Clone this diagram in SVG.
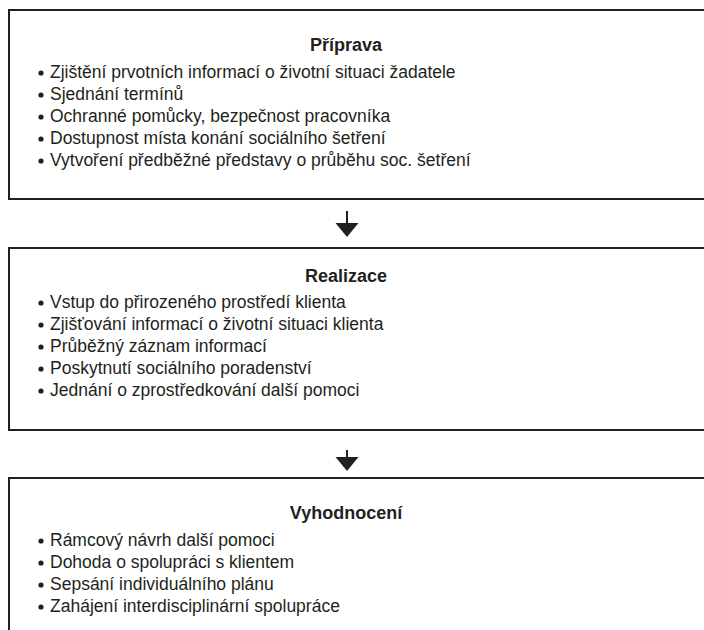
<svg xmlns="http://www.w3.org/2000/svg" width="704" height="630" viewBox="0 0 704 630">
<style>
.box{fill:#fff;stroke:#231f20;stroke-width:2}
.t{font-family:"Liberation Sans",Arial,sans-serif;font-size:17.5px;fill:#231f20}
.h{font-family:"Liberation Sans",Arial,sans-serif;font-size:18px;font-weight:bold;fill:#231f20;text-anchor:middle}
.b{fill:#231f20}
.ar{stroke:#231f20;stroke-width:2;fill:none}
</style>
<rect width="704" height="630" fill="#fff"/>
<g id="priprava">
<rect class="box" x="9" y="10" width="710" height="189"/>
<text class="h" x="346" y="51">Příprava</text>
<circle class="b" cx="41" cy="73" r="2.6"/><text class="t" x="50" y="77.5">Zjištění prvotních informací o životní situaci žadatele</text>
<circle class="b" cx="41" cy="95" r="2.6"/><text class="t" x="50" y="99.5">Sjednání termínů</text>
<circle class="b" cx="41" cy="117" r="2.6"/><text class="t" x="50" y="121.5">Ochranné pomůcky, bezpečnost pracovníka</text>
<circle class="b" cx="41" cy="139" r="2.6"/><text class="t" x="50" y="143.5">Dostupnost místa konání sociálního šetření</text>
<circle class="b" cx="41" cy="161" r="2.6"/><text class="t" x="50" y="165.5">Vytvoření předběžné představy o průběhu soc. šetření</text>
</g>
<g id="realizace">
<rect class="box" x="9" y="248" width="710" height="182"/>
<text class="h" x="346" y="282">Realizace</text>
<circle class="b" cx="41" cy="303" r="2.6"/><text class="t" x="50" y="307.5">Vstup do přirozeného prostředí klienta</text>
<circle class="b" cx="41" cy="325" r="2.6"/><text class="t" x="50" y="329.5">Zjišťování informací o životní situaci klienta</text>
<circle class="b" cx="41" cy="347" r="2.6"/><text class="t" x="50" y="351.5">Průběžný záznam informací</text>
<circle class="b" cx="41" cy="369" r="2.6"/><text class="t" x="50" y="373.5">Poskytnutí sociálního poradenství</text>
<circle class="b" cx="41" cy="391" r="2.6"/><text class="t" x="50" y="395.5">Jednání o zprostředkování další pomoci</text>
</g>
<g id="vyhodnoceni">
<rect class="box" x="9" y="478" width="710" height="170"/>
<text class="h" x="346" y="519">Vyhodnocení</text>
<circle class="b" cx="41" cy="541" r="2.6"/><text class="t" x="50" y="545.5">Rámcový návrh další pomoci</text>
<circle class="b" cx="41" cy="563" r="2.6"/><text class="t" x="50" y="567.5">Dohoda o spolupráci s klientem</text>
<circle class="b" cx="41" cy="585" r="2.6"/><text class="t" x="50" y="589.5">Sepsání individuálního plánu</text>
<circle class="b" cx="41" cy="607" r="2.6"/><text class="t" x="50" y="611.5">Zahájení interdisciplinární spolupráce</text>
</g>
<g id="connectors">
<line class="ar" x1="347" y1="211" x2="347" y2="224"/>
<polygon class="b" points="335.5,223 358.5,223 347,237"/>
<line class="ar" x1="347" y1="450" x2="347" y2="458"/>
<polygon class="b" points="335.5,457 358.5,457 347,471"/>
</g>
</svg>
